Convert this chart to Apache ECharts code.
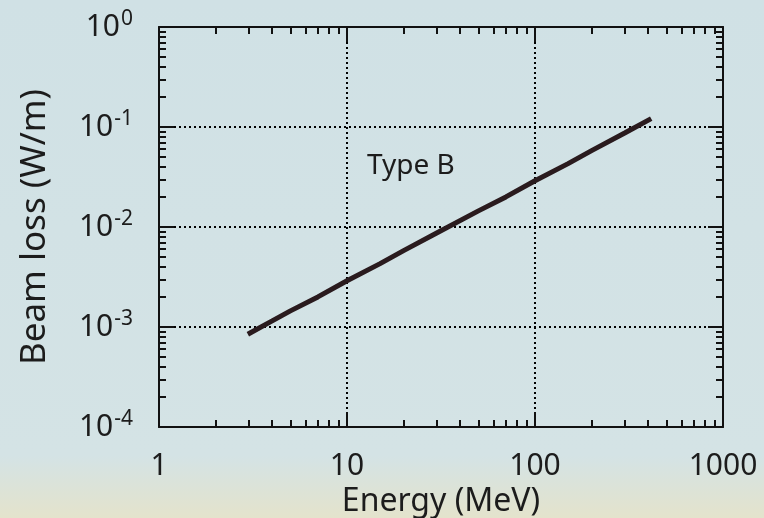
<!DOCTYPE html>
<html>
<head>
<meta charset="utf-8">
<script src="https://cdn.jsdelivr.net/npm/echarts@6/dist/echarts.min.js"></script>
<style>
html,body{margin:0;padding:0;background:#d2e2e5;}
#chart{width:764px;height:518px;}
</style>
</head>
<body>
<div id="chart"></div>
<script>
// ---- data ----
const energy   = [3.05, 4, 5, 7, 10, 15, 20, 30, 50, 70, 100, 150, 200, 300, 404];
const beamLoss = [8.7e-4, 1.15e-3, 1.45e-3, 2.0e-3, 2.9e-3, 4.3e-3, 5.8e-3, 8.7e-3, 1.45e-2, 2.0e-2, 2.9e-2, 4.3e-2, 5.8e-2, 8.7e-2, 0.118];
const xTickLabels = ['1', '10', '100', '1000'];
const yTickExponents = ['0', '-1', '-2', '-3', '-4'];
const xTitle = 'Energy (MeV)';
const yTitle = 'Beam loss (W/m)';
const annotation = 'Type B';

const FONT = '"Noto Sans", "Open Sans", sans-serif';
const TXT = '#1c1c1c';

// minor tick positions (log10 space) for overlay tick-only axes
function minorTicksLog(loExp, hiExp) {
  const out = [];
  for (let e = loExp; e < hiExp; e++) {
    for (let k = 2; k <= 9; k++) out.push(e + Math.log10(k));
  }
  return out;
}
const xMinorLog = minorTicksLog(0, 3);
const yMinorLog = minorTicksLog(-4, 0);

const chart = echarts.init(document.getElementById('chart'), null, {renderer: 'canvas'});

const gridRect = {left: 159, top: 27, right: 41, bottom: 91, containLabel: false, outerBoundsMode: 'none'};
const tickStyle = {color: '#111', width: 2};

function axisBase(extra) {
  return Object.assign({
    axisLine: {show: true, onZero: false, lineStyle: {color: '#111', width: 2}},
    axisLabel: {show: false},
    axisTick: {show: false},
    splitLine: {show: false},
    minorTick: {show: false}
  }, extra);
}
const logX = (extra) => axisBase(Object.assign({type: 'log', logBase: 10, min: 1, max: 1000}, extra));
const logY = (extra) => axisBase(Object.assign({type: 'log', logBase: 10, min: 1e-4, max: 1}, extra));
const minorX = (pos, g) => axisBase({
  gridIndex: g, type: 'value', min: 0, max: 3, position: pos, axisLine: {show: false, onZero: false},
  axisTick: {show: true, inside: true, length: 7, customValues: xMinorLog, lineStyle: tickStyle}
});
const minorY = (pos, g) => axisBase({
  gridIndex: g, type: 'value', min: -4, max: 0, position: pos, axisLine: {show: false, onZero: false},
  axisTick: {show: true, inside: true, length: 7, customValues: yMinorLog, lineStyle: tickStyle}
});

const option = {
  backgroundColor: 'transparent',
  animation: false,
  graphic: [
    {
      type: 'rect', z: -10, silent: true,
      shape: {x: 0, y: 0, width: 764, height: 518},
      style: {
        fill: new echarts.graphic.LinearGradient(0, 0, 0, 1, [
          {offset: 0, color: '#d0e1e5'},
          {offset: 0.88, color: '#d4e3e5'},
          {offset: 0.95, color: '#dde3d6'},
          {offset: 1, color: '#e4e3cc'}
        ])
      }
    },
    {
      type: 'text', left: 367, top: 152, z: 50,
      style: {text: annotation, fill: TXT, font: '28px ' + FONT}
    }
  ],
  grid: [
    Object.assign({}, gridRect),
    Object.assign({}, gridRect),
    Object.assign({}, gridRect),
    Object.assign({}, gridRect)
  ],
  xAxis: [
    logX({
      gridIndex: 0, position: 'bottom',
      name: xTitle, nameLocation: 'middle', nameGap: 55,
      nameTextStyle: {fontFamily: FONT, fontSize: 32, color: TXT},
      axisTick: {show: true, inside: true, length: 15, lineStyle: tickStyle},
      axisLabel: {
        show: true, margin: 24, fontFamily: FONT, fontSize: 30, color: TXT,
        formatter: function (v) {
          const i = Math.round(Math.log10(v));
          return xTickLabels[i] !== undefined ? xTickLabels[i] : '';
        }
      },
      splitLine: {show: true, lineStyle: {color: '#000', width: 2, type: [2, 3]}}
    }),
    logX({
      gridIndex: 1, position: 'top',
      axisTick: {show: true, inside: true, length: 15, lineStyle: tickStyle}
    }),
    minorX('bottom', 2),
    minorX('top', 3)
  ],
  yAxis: [
    logY({
      gridIndex: 0, position: 'left',
      name: yTitle, nameLocation: 'middle', nameGap: 106, nameRotate: 90,
      nameTextStyle: {fontFamily: FONT, fontSize: 35, color: TXT},
      axisTick: {show: true, inside: true, length: 15, lineStyle: tickStyle},
      axisLabel: {
        show: true, margin: 26, fontFamily: FONT, color: TXT,
        formatter: function (v) {
          const i = -Math.round(Math.log10(v));
          const e = yTickExponents[i];
          return e === undefined ? '' : '{b|10}{s|' + e + '}';
        },
        rich: {
          b: {fontFamily: FONT, fontSize: 30, color: TXT, lineHeight: 32},
          s: {fontFamily: FONT, fontSize: 21, color: TXT, lineHeight: 32, padding: [0, 0, 16, 1]}
        }
      },
      splitLine: {show: true, lineStyle: {color: '#000', width: 2, type: [2, 3]}}
    }),
    logY({
      gridIndex: 1, position: 'right',
      axisTick: {show: true, inside: true, length: 15, lineStyle: tickStyle}
    }),
    minorY('left', 2),
    minorY('right', 3)
  ],
  series: [{
    type: 'line',
    xAxisIndex: 0, yAxisIndex: 0,
    data: energy.map((e, i) => [e, beamLoss[i]]),
    showSymbol: false,
    lineStyle: {color: '#2a1b1e', width: 5, cap: 'square'},
    z: 10
  }]
};
chart.setOption(option);
</script>
</body>
</html>
